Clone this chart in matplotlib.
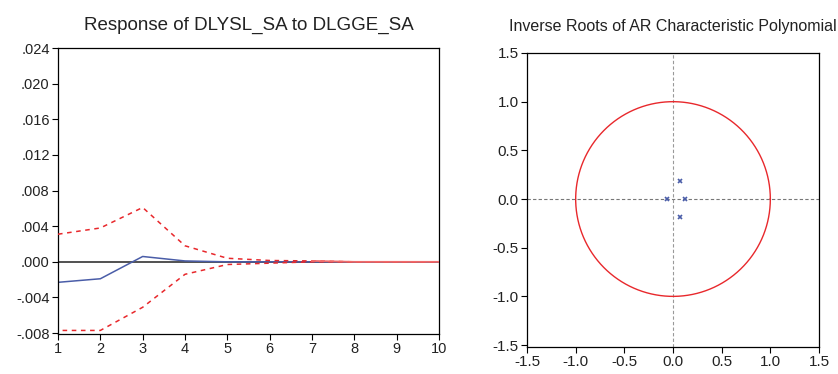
import numpy as np
import matplotlib.pyplot as plt

plt.rcParams['font.family'] = ['Liberation Sans', 'DejaVu Sans']

# impulse response of DLYSL_SA to a DLGGE_SA shock, with +/- 2 s.e. bands
periodi = [1, 2, 3, 4, 5, 6, 7, 8, 9, 10]
risposta = [-0.0023, -0.0019, 0.0006, 0.0001, 0.0, 0.0, 0.0, 0.0, 0.0, 0.0]
banda_sup = [0.0031, 0.0038, 0.0061, 0.0018, 0.0004, 0.00015, 0.0001, 0.0, 0.0, 0.0]
banda_inf = [-0.0077, -0.0077, -0.0051, -0.0014, -0.0003, -0.00015, 0.0, 0.0, 0.0, 0.0]
yticks_irf = [-0.008, -0.004, 0.0, 0.004, 0.008, 0.012, 0.016, 0.020, 0.024]
ylabels_irf = ['-.008', '-.004', '.000', '.004', '.008', '.012', '.016', '.020', '.024']

# inverse roots of the AR characteristic polynomial
radici_re = [-0.06, 0.12, 0.07, 0.07]
radici_im = [0.0, 0.0, 0.185, -0.185]
ticks_radici = [-1.5, -1.0, -0.5, 0.0, 0.5, 1.0, 1.5]

blu = '#4a5da8'
rosso = '#e8282c'
testo = '#222222'

fig = plt.figure(figsize=(8.38, 3.74), dpi=100)

ax1 = fig.add_axes([58 / 838, 1 - 334 / 374, 381 / 838, 286 / 374])
ax1.axhline(0, color='#333333', lw=1.2, zorder=1)
ax1.plot(periodi, risposta, color=blu, lw=1.1, zorder=2)
ax1.plot(periodi, banda_sup, color=rosso, lw=1.1, linestyle=(0, (3, 3)), zorder=3)
ax1.plot(periodi, banda_inf, color=rosso, lw=1.1, linestyle=(3, (3, 3)), zorder=3)
# tail where both bands have collapsed onto zero
ax1.plot(periodi[6:], banda_sup[6:], color='#f06a6a', lw=1.3, zorder=4)
ax1.set_xlim(1, 10)
ax1.set_ylim(-0.0081, 0.024)
ax1.set_xticks(periodi)
ax1.set_yticks(yticks_irf)
ax1.set_yticklabels(ylabels_irf)
ax1.tick_params(direction='out', length=4, width=0.8, labelsize=10.5, pad=2,
                labelcolor=testo)
ax1.set_title('Response of DLYSL_SA to DLGGE_SA', fontsize=13.5, pad=13, color=testo)
for s in ax1.spines.values():
    s.set_linewidth(0.9)

ax2 = fig.add_axes([527 / 838, 1 - 347 / 374, 292 / 838, 294 / 374])
ax2.axhline(0, color='#777777', lw=0.8, linestyle=(0, (3, 2)), zorder=1)
ax2.axvline(0, color='#999999', lw=0.8, linestyle=(0, (3, 2)), zorder=1)
t = np.linspace(0, 2 * np.pi, 400)
ax2.plot(np.cos(t), np.sin(t), color=rosso, lw=1.0, zorder=2)
ax2.plot(radici_re, radici_im, linestyle='none', marker='x', color=blu,
         markersize=3.5, mew=1.2, zorder=3)
ax2.set_xlim(-1.5, 1.5)
ax2.set_ylim(-1.52, 1.5)
ax2.set_xticks(ticks_radici)
ax2.set_yticks(ticks_radici)
ax2.set_xticklabels(['%.1f' % v for v in ticks_radici])
ax2.set_yticklabels(['%.1f' % v for v in ticks_radici])
ax2.tick_params(direction='out', length=4, width=0.8, labelsize=11, pad=2,
                labelcolor=testo)
ax2.set_title('Inverse Roots of AR Characteristic Polynomial', fontsize=11.5, pad=16,
              color=testo)
for s in ax2.spines.values():
    s.set_linewidth(0.9)

fig.savefig('out.png', dpi=100)
